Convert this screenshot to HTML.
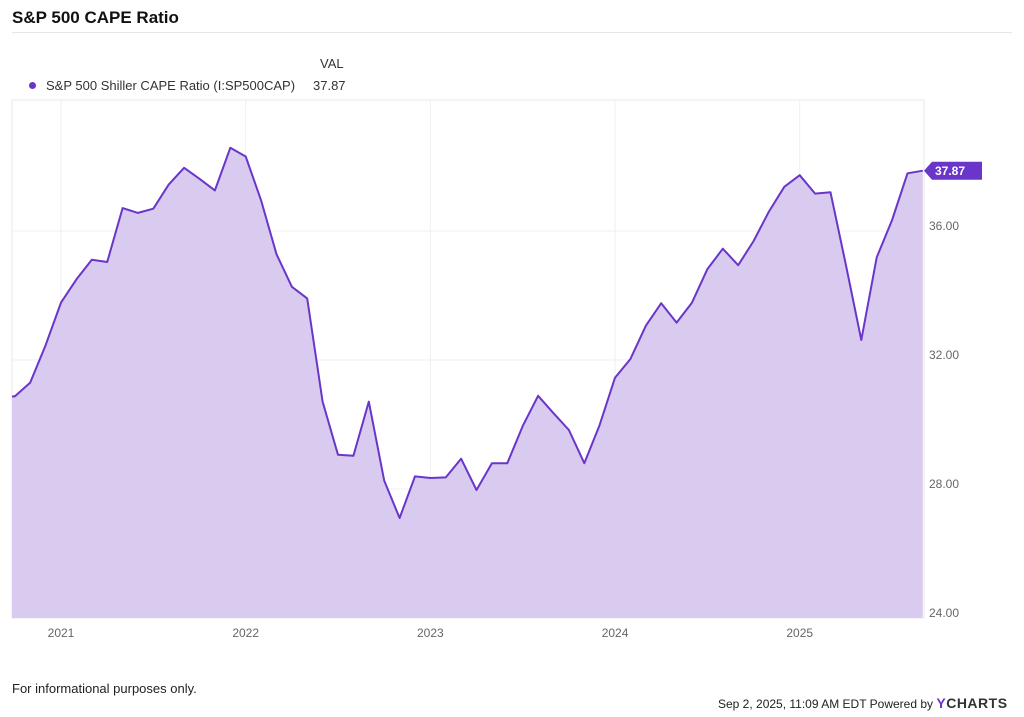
<!DOCTYPE html>
<html><head><meta charset="utf-8"><style>
body{margin:0;width:1024px;height:717px;background:#fff;font-family:"Liberation Sans",sans-serif;overflow:hidden;position:relative}
.t{position:absolute;white-space:nowrap}
</style></head><body>
<div class="t" style="left:12px;top:8px;font-size:17px;font-weight:bold;color:#111">S&amp;P 500 CAPE Ratio</div>
<div style="position:absolute;left:12px;top:32px;width:1000px;height:1px;background:#e6e6ea"></div>
<div class="t" style="left:320px;top:56px;font-size:13px;color:#333">VAL</div>
<div style="position:absolute;left:29px;top:82px;width:7px;height:7px;border-radius:50%;background:#6a35c9"></div>
<div class="t" style="left:46px;top:78px;font-size:13px;color:#333">S&amp;P 500 Shiller CAPE Ratio (I:SP500CAP)</div>
<div class="t" style="left:313px;top:78px;font-size:13px;color:#333">37.87</div>
<svg id="chart" width="1024" height="717" style="position:absolute;left:0;top:0"></svg>
<div class="t" style="left:12px;top:681px;font-size:13px;color:#222">For informational purposes only.</div>
<div class="t" style="left:718px;top:695px;font-size:12px;color:#222">Sep 2, 2025, 11:09 AM EDT Powered by <b style="font-size:14px;color:#333;letter-spacing:0.5px"><span style="color:#6a35c9">Y</span>CHARTS</b></div>
<script>
const dates=["2020-10"];
const values=[30.87,31.30,32.46,33.78,34.50,35.11,35.04,36.71,36.56,36.69,37.44,37.96,37.62,37.26,38.58,38.31,36.95,35.28,34.27,33.91,30.71,29.06,29.03,30.71,28.26,27.10,28.39,28.34,28.36,28.94,
27.97,28.80,28.80,29.95,30.89,30.35,29.83,28.80,29.98,31.45,32.03,33.06,33.76,33.16,33.78,34.82,35.45,34.94,35.69,36.60,37.37,37.73,37.16,37.20,34.95,32.62,35.18,36.34,37.79,37.87];
const yTicks=[24,28,32,36];
const yTickLabels=["24.00","28.00","32.00","36.00"];
const xYears=[2021,2022,2023,2024,2025];
const startYear=2020,startMonth=9; // Oct 2020 (0-based month)
const L=12,R=924,T=100,B=618;
const yS=v=>618-(v-24)*32.25;
const xS=i=>61+(i+startMonth-12)*15.39;
const ns="http://www.w3.org/2000/svg";
const svg=document.getElementById('chart');
function mk(t,a){const e=document.createElementNS(ns,t);for(const k in a)e.setAttribute(k,a[k]);svg.appendChild(e);return e;}
let b=mk('rect',{x:L,y:T,width:R-L,height:B-T,fill:'none',stroke:'#e8e8ee'});


yTicks.forEach((v,k)=>{
 let g=mk('line',{x1:L,x2:R,y1:yS(v),y2:yS(v),stroke:'#efeff4'});
 
 
 let t=mk('text',{x:929,y:yS(v)-1,'font-size':12,fill:'#666','font-family':'Liberation Sans,sans-serif'});
 t.textContent=yTickLabels[k];
 
 
});
xYears.forEach(yr=>{
 const i=(yr-startYear)*12-startMonth;
 let g=mk('line',{x1:xS(i),x2:xS(i),y1:T,y2:B,stroke:'#efeff4'});
 
 
 let t=mk('text',{x:xS(i),y:637,'font-size':12,fill:'#666','text-anchor':'middle','font-family':'Liberation Sans,sans-serif'});
 t.textContent=yr;
 
 
});
let pts=values.map((v,i)=>xS(i).toFixed(1)+','+yS(v).toFixed(1));
let area=mk('path',{d:'M'+L+','+B+' L'+L+','+yS(values[0]).toFixed(1)+' L'+pts.join(' L')+' L'+xS(values.length-1).toFixed(1)+','+B+' Z',fill:'#d9cbef'});


let line=mk('polyline',{points:L+','+yS(values[0]).toFixed(1)+' '+pts.join(' '),fill:'none',stroke:'#6a35c9','stroke-width':2,'stroke-linejoin':'round'});


const last=values[values.length-1],ly=yS(last);
let tag=mk('path',{d:`M924,${ly} L932,${ly-9} L982,${ly-9} L982,${ly+9} L932,${ly+9} Z`,fill:'#6a35c9'});


let tt=mk('text',{x:935,y:ly+4.5,'font-size':12,'font-weight':'bold',fill:'#fff','font-family':'Liberation Sans,sans-serif'});
tt.textContent=last.toFixed(2);


</script>
</body></html>
